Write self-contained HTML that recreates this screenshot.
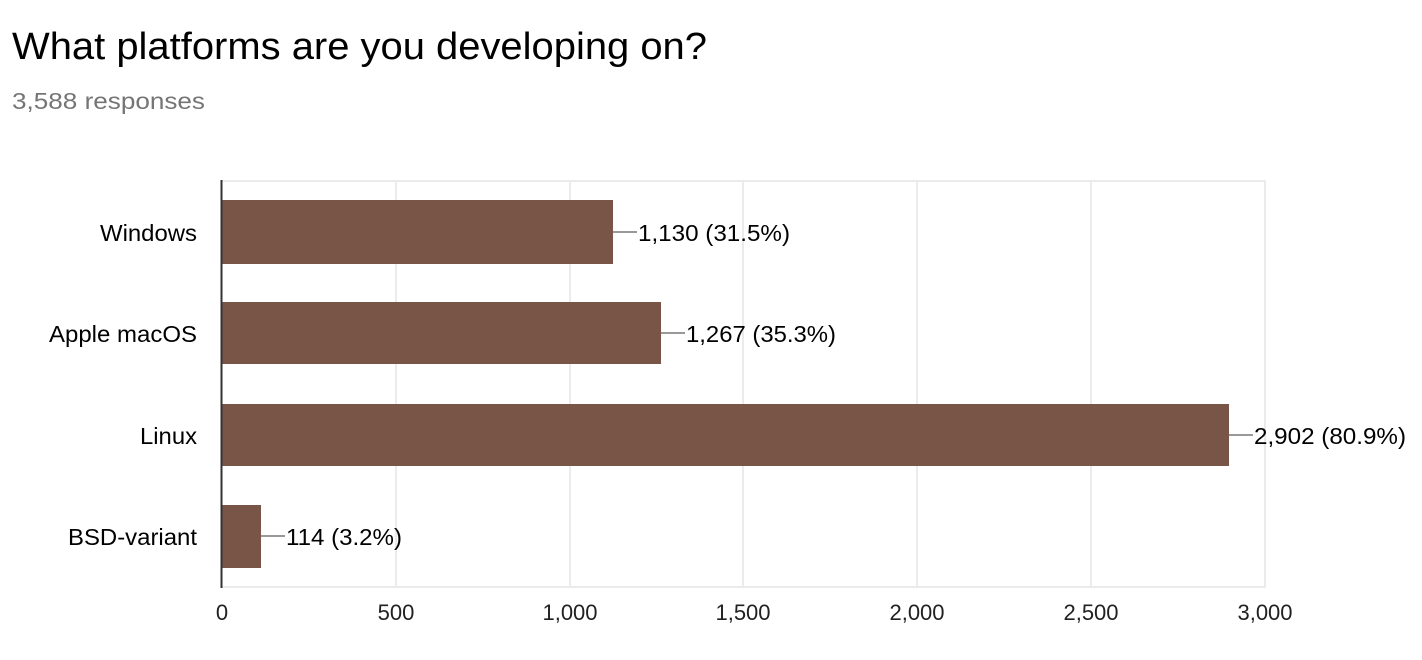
<!DOCTYPE html>
<html><head><style>body{margin:0;background:#fff}svg{display:block}text{font-family:"Liberation Sans",Arial,sans-serif}</style></head>
<body>
<svg width="1422" height="660" viewBox="0 0 1422 660" xmlns="http://www.w3.org/2000/svg">
<text x="12" y="59" font-size="38" fill="#000" textLength="695" lengthAdjust="spacingAndGlyphs">What platforms are you developing on?</text>
<text x="12" y="109" font-size="23" fill="#757575" textLength="193" lengthAdjust="spacingAndGlyphs">3,588 responses</text>
<g stroke="#ebebeb" stroke-width="2">
<line x1="222" y1="181" x2="1265" y2="181"/>
<line x1="222" y1="587" x2="1265" y2="587"/>
<line x1="396" y1="180" x2="396" y2="588"/>
<line x1="570" y1="180" x2="570" y2="588"/>
<line x1="743" y1="180" x2="743" y2="588"/>
<line x1="917" y1="180" x2="917" y2="588"/>
<line x1="1091" y1="180" x2="1091" y2="588"/>
<line x1="1265" y1="180" x2="1265" y2="588"/>
</g>
<g fill="#795548">
<rect x="222" y="200" width="391" height="64"/>
<rect x="222" y="302" width="439" height="62"/>
<rect x="222" y="404" width="1007" height="62"/>
<rect x="222" y="505" width="39" height="63"/>
</g>
<line x1="221.5" y1="180" x2="221.5" y2="588" stroke="#333" stroke-width="2"/>
<g stroke="#999" stroke-width="2">
<line x1="613" y1="232" x2="637" y2="232"/>
<line x1="661" y1="333" x2="685" y2="333"/>
<line x1="1229" y1="435" x2="1253" y2="435"/>
<line x1="261" y1="536" x2="285" y2="536"/>
</g>
<g font-size="23" fill="#000">
<text x="638" y="241" textLength="152" lengthAdjust="spacingAndGlyphs">1,130 (31.5%)</text>
<text x="686" y="342" textLength="150" lengthAdjust="spacingAndGlyphs">1,267 (35.3%)</text>
<text x="1254" y="444" textLength="152" lengthAdjust="spacingAndGlyphs">2,902 (80.9%)</text>
<text x="286" y="545" textLength="116" lengthAdjust="spacingAndGlyphs">114 (3.2%)</text>
</g>
<g font-size="23" fill="#000">
<text x="100" y="241" textLength="97" lengthAdjust="spacingAndGlyphs">Windows</text>
<text x="49" y="342" textLength="148" lengthAdjust="spacingAndGlyphs">Apple macOS</text>
<text x="140" y="444" textLength="57" lengthAdjust="spacingAndGlyphs">Linux</text>
<text x="68" y="545" textLength="129" lengthAdjust="spacingAndGlyphs">BSD-variant</text>
</g>
<g font-size="22" fill="#212121" text-anchor="middle">
<text x="222" y="620">0</text>
<text x="396" y="620">500</text>
<text x="570" y="620">1,000</text>
<text x="743" y="620">1,500</text>
<text x="917" y="620">2,000</text>
<text x="1091" y="620">2,500</text>
<text x="1265" y="620">3,000</text>
</g>
</svg>
</body></html>
